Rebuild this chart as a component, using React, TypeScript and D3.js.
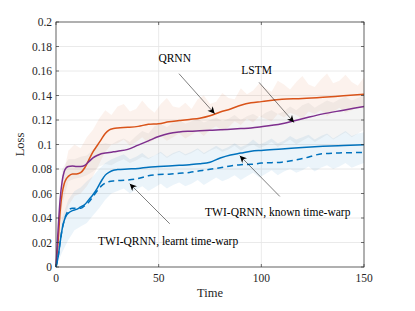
import React from 'react';
import * as d3 from 'd3';

// Mean curves, sampled at lineT
const lineT = [0, 1, 2, 3, 4, 5, 6, 8, 10, 12, 14, 16, 18, 20, 22, 24, 26, 28, 30, 35, 40, 45, 50, 55, 60, 65, 70, 75, 80, 85, 90, 95, 100, 110, 120, 130, 140, 150];
const qrnn = [0, 0.02, 0.045, 0.06, 0.068, 0.072, 0.074, 0.076, 0.076, 0.077, 0.081, 0.0875, 0.094, 0.099, 0.104, 0.109, 0.112, 0.113, 0.1135, 0.114, 0.1148, 0.1165, 0.117, 0.1185, 0.1195, 0.1205, 0.1215, 0.1235, 0.1265, 0.129, 0.132, 0.134, 0.135, 0.137, 0.1375, 0.1385, 0.1398, 0.141];
const lstm = [0, 0.03, 0.055, 0.07, 0.078, 0.081, 0.082, 0.0825, 0.082, 0.082, 0.083, 0.086, 0.089, 0.091, 0.0925, 0.093, 0.0935, 0.094, 0.0945, 0.096, 0.0995, 0.103, 0.1065, 0.109, 0.1102, 0.1108, 0.1112, 0.1116, 0.112, 0.1125, 0.113, 0.1135, 0.1145, 0.117, 0.121, 0.125, 0.128, 0.131];
const twiKnown = [0, 0.008, 0.02, 0.031, 0.038, 0.042, 0.044, 0.046, 0.047, 0.049, 0.051, 0.055, 0.059, 0.064, 0.07, 0.075, 0.0775, 0.079, 0.0795, 0.08, 0.0805, 0.0815, 0.082, 0.0825, 0.083, 0.0835, 0.0842, 0.0855, 0.089, 0.0915, 0.093, 0.0945, 0.0952, 0.0963, 0.0975, 0.0985, 0.0992, 0.0998];
const twiLearnt = [0, 0.008, 0.02, 0.031, 0.038, 0.043, 0.046, 0.048, 0.048, 0.048, 0.05, 0.053, 0.0575, 0.062, 0.066, 0.0685, 0.0698, 0.0703, 0.0705, 0.071, 0.0722, 0.0745, 0.0755, 0.0758, 0.0765, 0.0772, 0.0785, 0.0798, 0.081, 0.0825, 0.0835, 0.0838, 0.0848, 0.0856, 0.0885, 0.0925, 0.0932, 0.0935];

// Spread bands, sampled at bandT
const bandT = [0, 3, 6, 9, 12, 15, 18, 21, 24, 27, 30, 33, 36, 39, 42, 45, 48, 51, 54, 57, 60, 63, 66, 69, 72, 75, 78, 81, 84, 87, 90, 93, 96, 99, 102, 105, 108, 111, 114, 117, 120, 123, 126, 129, 132, 135, 138, 141, 144, 147, 150];
const qrnnHi = [0, 0.07, 0.095, 0.1, 0.097, 0.106, 0.112, 0.121, 0.128, 0.124, 0.131, 0.133, 0.127, 0.129, 0.136, 0.13, 0.126, 0.133, 0.138, 0.131, 0.13, 0.134, 0.129, 0.137, 0.14, 0.133, 0.135, 0.142, 0.138, 0.137, 0.146, 0.141, 0.144, 0.15, 0.146, 0.143, 0.152, 0.149, 0.145, 0.151, 0.156, 0.149, 0.147, 0.153, 0.158, 0.15, 0.152, 0.157, 0.151, 0.148, 0.155];
const qrnnLo = [0, 0.03, 0.05, 0.058, 0.06, 0.066, 0.074, 0.084, 0.094, 0.1, 0.101, 0.104, 0.099, 0.102, 0.106, 0.101, 0.104, 0.107, 0.103, 0.106, 0.109, 0.105, 0.108, 0.111, 0.107, 0.112, 0.115, 0.111, 0.114, 0.119, 0.116, 0.121, 0.118, 0.123, 0.121, 0.119, 0.125, 0.122, 0.126, 0.124, 0.121, 0.127, 0.125, 0.128, 0.123, 0.127, 0.13, 0.126, 0.128, 0.131, 0.129];
const lstmHi = [0, 0.08, 0.088, 0.088, 0.09, 0.091, 0.096, 0.1, 0.101, 0.1, 0.103, 0.105, 0.102, 0.107, 0.111, 0.109, 0.115, 0.117, 0.114, 0.118, 0.12, 0.117, 0.119, 0.121, 0.118, 0.12, 0.122, 0.119, 0.121, 0.124, 0.12, 0.123, 0.125, 0.122, 0.126, 0.128, 0.125, 0.127, 0.131, 0.128, 0.132, 0.134, 0.13, 0.133, 0.136, 0.134, 0.137, 0.139, 0.136, 0.138, 0.14];
const lstmLo = [0, 0.05, 0.07, 0.072, 0.073, 0.075, 0.078, 0.082, 0.084, 0.083, 0.086, 0.088, 0.085, 0.087, 0.09, 0.088, 0.091, 0.093, 0.089, 0.092, 0.094, 0.091, 0.093, 0.096, 0.092, 0.095, 0.097, 0.094, 0.096, 0.099, 0.095, 0.098, 0.1, 0.097, 0.099, 0.102, 0.098, 0.101, 0.104, 0.1, 0.103, 0.106, 0.102, 0.105, 0.108, 0.104, 0.107, 0.11, 0.106, 0.109, 0.112];
const blueHi = [0, 0.04, 0.055, 0.062, 0.065, 0.07, 0.074, 0.08, 0.085, 0.088, 0.09, 0.092, 0.088, 0.09, 0.093, 0.089, 0.091, 0.094, 0.09, 0.093, 0.095, 0.092, 0.094, 0.097, 0.093, 0.096, 0.099, 0.096, 0.098, 0.101, 0.098, 0.1, 0.104, 0.1, 0.102, 0.105, 0.101, 0.103, 0.107, 0.104, 0.106, 0.108, 0.104, 0.107, 0.109, 0.105, 0.108, 0.111, 0.107, 0.109, 0.11];
const blueLo = [0, 0.012, 0.022, 0.03, 0.033, 0.036, 0.042, 0.048, 0.055, 0.06, 0.062, 0.064, 0.06, 0.063, 0.066, 0.062, 0.065, 0.068, 0.064, 0.067, 0.069, 0.066, 0.068, 0.071, 0.067, 0.07, 0.073, 0.07, 0.072, 0.075, 0.071, 0.074, 0.077, 0.073, 0.076, 0.079, 0.075, 0.078, 0.08, 0.077, 0.079, 0.082, 0.078, 0.081, 0.083, 0.08, 0.082, 0.085, 0.081, 0.083, 0.085];

const xTicks = [0, 50, 100, 150];
const yTicks = [0, 0.02, 0.04, 0.06, 0.08, 0.1, 0.12, 0.14, 0.16, 0.18, 0.2];

// text at (tx, ty), arrow from (ax0, ay0) to (ax1, ay1), all in data units
const notes = [
  { label: 'QRNN', tx: 57.8, ty: 0.167, ax0: 59.9, ay0: 0.1578, ax1: 77.3, ay1: 0.1251 },
  { label: 'LSTM', tx: 97.7, ty: 0.1578, ax0: 98.9, ay0: 0.1507, ax1: 115.9, ay1: 0.118 },
  { label: 'TWI-QRNN, known time-warp', tx: 108, ty: 0.0413, ax0: 109, ay0: 0.0576, ax1: 89.5, ay1: 0.0909 },
  { label: 'TWI-QRNN, learnt time-warp', tx: 54.6, ty: 0.0182, ax0: 55.4, ay0: 0.0353, ax1: 35.9, ay1: 0.068 },
];

const W = 415;
const H = 311;
const m = { left: 56, right: 364, top: 22, bottom: 267 };
const font = "'Liberation Serif', 'Times New Roman', serif";

const App: React.FC = () => {
  const x = d3.scaleLinear().domain([0, 150]).range([m.left, m.right]);
  const y = d3.scaleLinear().domain([0, 0.2]).range([m.bottom, m.top]);

  const line = (vals: number[]) =>
    d3.line<number>().x((_, i) => x(lineT[i])).y((d) => y(d)).curve(d3.curveMonotoneX)(vals) || '';
  const band = (hi: number[], lo: number[]) =>
    d3.area<number>().x((_, i) => x(bandT[i])).y0((_, i) => y(lo[i])).y1((d) => y(d))(hi) || '';

  const series = [
    { vals: qrnn, color: '#D95319', dash: undefined },
    { vals: lstm, color: '#7E2F8E', dash: undefined },
    { vals: twiKnown, color: '#0072BD', dash: undefined },
    { vals: twiLearnt, color: '#0072BD', dash: '6 4' },
  ];

  const txt = { fontFamily: font };

  return (
    <svg width={W} height={H} style={{ position: 'absolute', left: 0, top: 0, background: '#fff' }}>
      <defs>
        <marker id="ah" viewBox="0 0 10 10" refX="10" refY="5" markerWidth="8" markerHeight="7" orient="auto" markerUnits="userSpaceOnUse">
          <path d="M0,0 L10,5 L0,10 L3,5 Z" fill="#000" />
        </marker>
      </defs>

      {/* grid */}
      {yTicks.map((t) => (
        <line key={'gy' + t} x1={m.left} x2={m.right} y1={y(t)} y2={y(t)} stroke="#e4e4e4" strokeWidth={0.8} />
      ))}
      {xTicks.map((t) => (
        <line key={'gx' + t} x1={x(t)} x2={x(t)} y1={m.top} y2={m.bottom} stroke="#e4e4e4" strokeWidth={0.8} />
      ))}

      {/* spread bands */}
      <path d={band(qrnnHi, qrnnLo)} fill="#D95319" fillOpacity={0.08} />
      <path d={band(lstmHi, lstmLo)} fill="#777" fillOpacity={0.08} />
      <path d={band(blueHi, blueLo)} fill="#0072BD" fillOpacity={0.08} />

      {series.map((s, i) => (
        <path key={i} d={line(s.vals)} fill="none" stroke={s.color} strokeWidth={1.5} strokeDasharray={s.dash} />
      ))}

      {/* box and ticks */}
      <rect x={m.left} y={m.top} width={m.right - m.left} height={m.bottom - m.top} fill="none" stroke="#333" strokeWidth={0.7} />
      {yTicks.map((t) => (
        <g key={'ty' + t}>
          <line x1={m.left} x2={m.left + 3} y1={y(t)} y2={y(t)} stroke="#333" strokeWidth={0.7} />
          <line x1={m.right} x2={m.right - 3} y1={y(t)} y2={y(t)} stroke="#333" strokeWidth={0.7} />
          <text x={m.left - 4} y={y(t)} dy="0.35em" textAnchor="end" fontSize={11.5} fill="#262626" style={txt}>
            {t}
          </text>
        </g>
      ))}
      {xTicks.map((t) => (
        <g key={'tx' + t}>
          <line x1={x(t)} x2={x(t)} y1={m.bottom} y2={m.bottom - 3} stroke="#333" strokeWidth={0.7} />
          <line x1={x(t)} x2={x(t)} y1={m.top} y2={m.top + 3} stroke="#333" strokeWidth={0.7} />
          <text x={x(t)} y={m.bottom + 15} textAnchor="middle" fontSize={11.5} fill="#262626" style={txt}>
            {t}
          </text>
        </g>
      ))}

      <text x={(m.left + m.right) / 2} y={297} textAnchor="middle" fontSize={12.5} fill="#262626" style={txt}>
        Time
      </text>
      <text transform={`translate(24,${(m.top + m.bottom) / 2}) rotate(-90)`} textAnchor="middle" fontSize={12.5} fill="#262626" style={txt}>
        Loss
      </text>

      {/* annotations */}
      {notes.map((n) => (
        <g key={n.label}>
          <line x1={x(n.ax0)} y1={y(n.ay0)} x2={x(n.ax1)} y2={y(n.ay1)} stroke="#000" strokeWidth={0.5} markerEnd="url(#ah)" />
          <text x={x(n.tx)} y={y(n.ty)} textAnchor="middle" fontSize={11.5} fill="#000" style={txt}>
            {n.label}
          </text>
        </g>
      ))}
    </svg>
  );
};

export default App;
